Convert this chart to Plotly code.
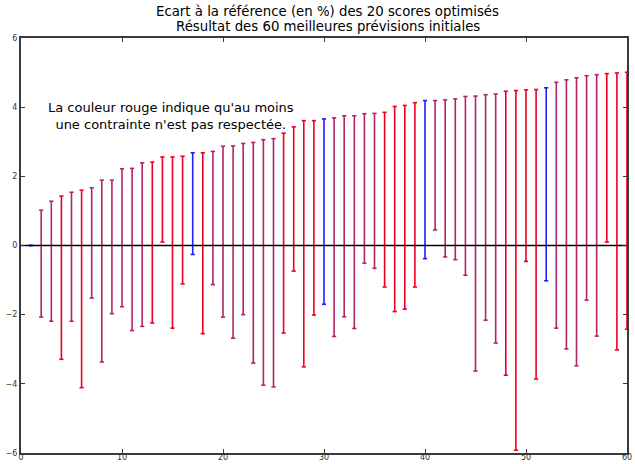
import plotly.graph_objects as go

# Spread of the 20 optimised scores (in % of the reference) for each initial forecast
forecast = list(range(1, 61))
score_max = [0.00, 1.02, 1.28, 1.43, 1.54, 1.60, 1.67, 1.89, 1.89, 2.22,
             2.23, 2.39, 2.41, 2.56, 2.56, 2.58, 2.68, 2.68, 2.72, 2.87,
             2.88, 2.95, 2.98, 3.06, 3.09, 3.25, 3.43, 3.61, 3.61, 3.66,
             3.69, 3.75, 3.75, 3.81, 3.82, 3.85, 4.02, 4.05, 4.13, 4.19,
             4.19, 4.21, 4.24, 4.31, 4.32, 4.36, 4.38, 4.46, 4.48, 4.50,
             4.51, 4.56, 4.72, 4.79, 4.85, 4.91, 4.94, 4.97, 4.99, 5.01]
score_min = [0.00, -2.07, -2.19, -3.29, -2.19, -4.11, -1.52, -3.37, -1.97, -1.77,
             -2.46, -2.34, -2.24, 0.10, -2.39, -1.11, -0.26, -2.55, -1.13, -2.07,
             -2.68, -2.00, -3.40, -4.04, -4.09, -2.53, -0.74, -3.51, -2.01, -1.70,
             -2.63, -2.06, -2.40, -0.51, -0.66, -1.20, -1.91, -1.84, -1.20, -0.38,
             0.45, -0.33, -0.41, -0.86, -3.63, -2.16, -2.82, -3.75, -5.92, -0.46,
             -3.86, -1.02, -2.39, -2.99, -3.48, -1.58, -2.62, 0.10, -3.02, -2.42]
# b: all constraints met, r: violated, m: some scores of each kind
status = list("bmmrmrmmmm" "mmrrrrbrmm" "mmmmmrrrrb"
              "mmmmmrrrrb" "mmmmmmmrrr" "rbmmmmmrrr")

x_ticks = [0, 10, 20, 30, 40, 50, 60]
y_ticks = [-6, -4, -2, 0, 2, 4, 6]

colors = {"r": "rgb(236,0,36)", "m": "rgb(178,36,104)", "b": "rgb(30,30,250)"}

fig = go.Figure()
for key, col in colors.items():
    xs, ys = [], []
    for k, lo, hi, s in zip(forecast, score_min, score_max, status):
        if s == key:
            xs += [k, k, None]
            ys += [lo, hi, None]
    fig.add_trace(go.Scatter(
        x=xs, y=ys, mode="lines+markers",
        line=dict(color=col, width=1.6),
        marker=dict(symbol="line-ew", size=3, line=dict(color=col, width=1.6)),
        hoverinfo="skip", showlegend=False, cliponaxis=False))

# reference line at 0 %
fig.add_trace(go.Scatter(x=[0, 60], y=[0, 0], mode="lines",
                         line=dict(color="black", width=1.4),
                         hoverinfo="skip", showlegend=False))

axis_common = dict(showline=True, linecolor="#3a3a3a", linewidth=2, mirror="ticks",
                   ticks="inside", ticklen=4, tickwidth=1, tickcolor="#3a3a3a",
                   showgrid=False, zeroline=False, automargin=False,
                   tickfont=dict(family="DejaVu Sans", size=8, color="#333"))

fig.update_layout(
    width=635, height=464,
    margin=dict(l=21, r=8, t=38, b=11),
    plot_bgcolor="white", paper_bgcolor="white",
    font=dict(family="DejaVu Sans", color="black"),
    xaxis=dict(range=[0, 60], tickvals=x_ticks, ticklabelstandoff=-5, **axis_common),
    yaxis=dict(range=[-6, 6], tickvals=y_ticks, **axis_common),
    annotations=[
        dict(text="Ecart à la référence (en %) des 20 scores optimisés",
             xref="paper", yref="paper", x=0.506, y=1, yshift=17, yanchor="bottom",
             showarrow=False, font=dict(size=13.3)),
        dict(text="Résultat des 60 meilleures prévisions initiales",
             xref="paper", yref="paper", x=0.506, y=1, yshift=2, yanchor="bottom",
             showarrow=False, font=dict(size=13.3)),
        dict(text="La couleur rouge indique qu'au moins<br>une contrainte n'est pas respectée.",
             xref="x", yref="y", x=14.9, y=3.74, showarrow=False, align="center",
             font=dict(size=13)),
    ],
)

fig.write_html("out.html")
